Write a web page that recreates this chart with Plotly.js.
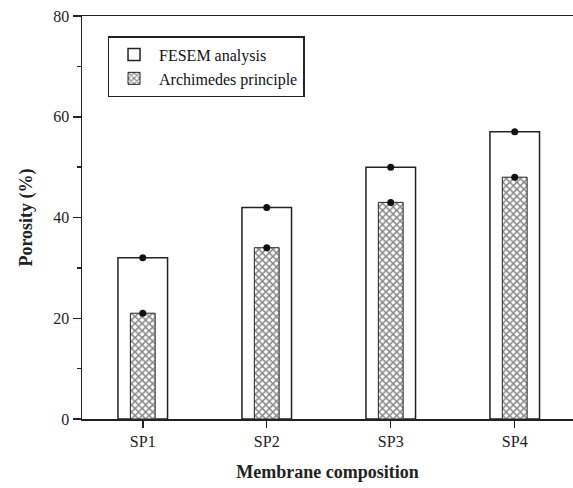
<!DOCTYPE html>
<html>
<head>
<meta charset="utf-8">
<script src="https://cdn.plot.ly/plotly-3.0.1.min.js"></script>
<style>html,body{margin:0;padding:0;background:#fff;}#chart{width:573px;height:488px;}</style>
</head>
<body>
<div id="chart"></div>
<script>
var categories = ["SP1", "SP2", "SP3", "SP4"];
var fesem = [32, 42, 50, 57];
var archimedes = [21, 34, 43, 48];
var yTicks = [0, 20, 40, 60, 80];

var font = "Liberation Serif, Times New Roman, serif";

var traces = [
  {
    type: "bar", name: "FESEM analysis", x: categories, y: fesem, width: 0.4,
    marker: {color: "#ffffff", line: {color: "#222", width: 1.5}}
  },
  {
    type: "bar", name: "Archimedes principle", x: categories, y: archimedes, width: 0.2,
    marker: {color: "#ffffff", line: {color: "#222", width: 1},
      pattern: {shape: "x", size: 5, solidity: 0.5, fgcolor: "#111", bgcolor: "#ffffff", fillmode: "overlay"}}
  },
  {
    type: "scatter", mode: "markers", x: categories, y: fesem, showlegend: false, hoverinfo: "skip",
    marker: {color: "#111", size: 7}
  },
  {
    type: "scatter", mode: "markers", x: categories, y: archimedes, showlegend: false, hoverinfo: "skip",
    marker: {color: "#111", size: 7}
  }
];

var layout = {
  width: 573, height: 488,
  margin: {l: 82, r: 0, t: 16, b: 69},
  paper_bgcolor: "#fff", plot_bgcolor: "#fff",
  barmode: "overlay",
  showlegend: true,
  legend: {
    x: 0.052, y: 0.95, xanchor: "left", yanchor: "top",
    bgcolor: "rgba(0,0,0,0)", bordercolor: "#222", borderwidth: 1.5,
    font: {family: font, size: 16, color: "#111"},
    tracegroupgap: 0, itemwidth: 40
  },
  xaxis: {
    type: "category", range: [-0.49, 3.47],
    showline: true, linecolor: "#222", linewidth: 1.5, mirror: true,
    ticks: "outside", ticklen: 7, tickwidth: 1.5, tickcolor: "#222",
    showgrid: false, zeroline: false,
    tickfont: {family: font, size: 16, color: "#222"},
    title: {text: "<b>Membrane composition</b>", font: {family: font, size: 18, color: "#222"}, standoff: 16}
  },
  yaxis: {
    range: [0, 80], tickvals: yTicks,
    showline: true, linecolor: "#222", linewidth: 1.5,
    ticks: "outside", ticklen: 8, tickwidth: 1.5, tickcolor: "#222",
    minor: {dtick: 10, ticks: "outside", ticklen: 4, tickwidth: 1.5, tickcolor: "#222", showgrid: false},
    showgrid: false, zeroline: false,
    tickfont: {family: font, size: 16, color: "#222"},
    title: {text: "<b>Porosity (%)</b>", font: {family: font, size: 18, color: "#222"}, standoff: 16}
  }
};

Plotly.newPlot("chart", traces, layout, {displayModeBar: false, staticPlot: true});
</script>
</body>
</html>
